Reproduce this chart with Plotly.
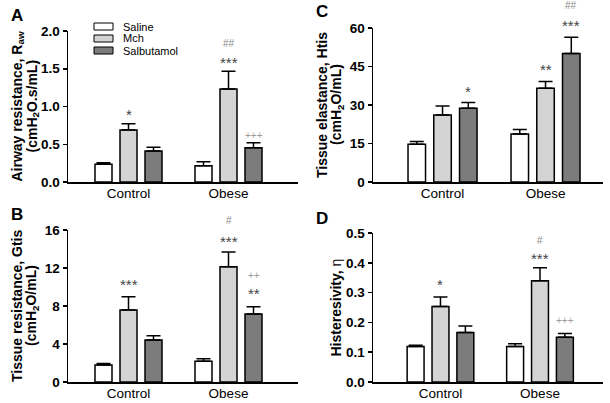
import plotly.graph_objects as go

W, H = 610, 403

groups = ["Control", "Obese"]
series = ["Saline", "Mch", "Salbutamol"]
colors = ["#ffffff", "#d4d4d4", "#7c7c7c"]

# Panel A: airway resistance Raw
raw_saline = [0.234, 0.216]
raw_saline_err = [0.022, 0.053]
raw_mch = [0.689, 1.232]
raw_mch_err = [0.084, 0.234]
raw_salb = [0.410, 0.455]
raw_salb_err = [0.049, 0.066]

# Panel B: tissue resistance Gtis
gtis_saline = [1.79, 2.18]
gtis_saline_err = [0.17, 0.28]
gtis_mch = [7.58, 12.14]
gtis_mch_err = [1.40, 1.54]
gtis_salb = [4.42, 7.16]
gtis_salb_err = [0.46, 0.77]

# Panel C: tissue elastance Htis
htis_saline = [14.7, 18.7]
htis_saline_err = [1.1, 1.8]
htis_mch = [26.1, 36.5]
htis_mch_err = [3.5, 2.7]
htis_salb = [28.7, 50.1]
htis_salb_err = [2.3, 6.3]

# Panel D: histeresivity eta
eta_saline = [0.119, 0.119]
eta_saline_err = [0.004, 0.009]
eta_mch = [0.253, 0.340]
eta_mch_err = [0.032, 0.043]
eta_salb = [0.166, 0.150]
eta_salb_err = [0.022, 0.013]

# significance labels: (text, group index, series index, y value)
raw_marks = [("*", 0, 1, 0.93), ("***", 1, 1, 1.62), ("##", 1, 1, 1.83), ("+++", 1, 2, 0.62)]
gtis_marks = [("***", 0, 1, 10.56), ("***", 1, 1, 15.12), ("#", 1, 1, 16.98),
              ("++", 1, 2, 11.26), ("**", 1, 2, 9.61)]
htis_marks = [("*", 0, 2, 36.5), ("**", 1, 1, 44.9), ("***", 1, 2, 62.0), ("##", 1, 2, 68.6)]
eta_marks = [("*", 0, 1, 0.337), ("***", 1, 1, 0.426), ("#", 1, 1, 0.476), ("+++", 1, 2, 0.206)]

raw_ticks = [0, 0.5, 1.0, 1.5, 2.0]
gtis_ticks = [0, 4, 8, 12, 16]
htis_ticks = [0, 15, 30, 45, 60]
eta_ticks = [0, 0.1, 0.2, 0.3, 0.4, 0.5]

FONT = "Liberation Sans, Arial, sans-serif"


def px_x(p):
    return p / W


def px_y(p):
    return 1 - p / H


panels = [
    dict(letter="A", means=[raw_saline, raw_mch, raw_salb],
         errs=[raw_saline_err, raw_mch_err, raw_salb_err], marks=raw_marks,
         ticks=raw_ticks, fmt=".1f",
         xpx=(68, 298), ypx=(182, 31), xr=(-0.605, 1.695),
         titles=["<b>Airway resistance, R<sub>aw</sub></b>", "<b>(cmH<sub>2</sub>O.s/mL)</b>"],
         title_x=[17, 32], letter_pos=(17, 15)),
    dict(letter="B", means=[gtis_saline, gtis_mch, gtis_salb],
         errs=[gtis_saline_err, gtis_mch_err, gtis_salb_err], marks=gtis_marks,
         ticks=gtis_ticks, fmt="d",
         xpx=(68, 298), ypx=(382, 230), xr=(-0.605, 1.695),
         titles=["<b>Tissue resistance, Gtis</b>", "<b>(cmH<sub>2</sub>O/mL)</b>"],
         title_x=[17, 32], letter_pos=(17, 214)),
    dict(letter="C", means=[htis_saline, htis_mch, htis_salb],
         errs=[htis_saline_err, htis_mch_err, htis_salb_err], marks=htis_marks,
         ticks=htis_ticks, fmt="d",
         xpx=(373, 603), ypx=(182, 28), xr=(-0.675, 1.558),
         titles=["<b>Tissue elastance, Htis</b>", "<b>(cmH<sub>2</sub>O/mL)</b>"],
         title_x=[322, 337], letter_pos=(322, 11)),
    dict(letter="D", means=[eta_saline, eta_mch, eta_salb],
         errs=[eta_saline_err, eta_mch_err, eta_salb_err], marks=eta_marks,
         ticks=eta_ticks, fmt=".1f",
         xpx=(373, 603), ypx=(382, 233), xr=(-0.678, 1.633),
         titles=["<b>Histeresivity, </b>η"],
         title_x=[335], letter_pos=(322, 218)),
]

fig = go.Figure()
layout = dict(
    width=W, height=H,
    margin=dict(l=0, r=0, t=0, b=0),
    paper_bgcolor="white", plot_bgcolor="white",
    barmode="group", bargap=0.25, bargroupgap=0.32,
    showlegend=False,
    font=dict(family=FONT, color="black"),
)
annotations = []
shapes = []

mark_style = {
    "*": dict(size=15, color="#444444", shift=-3),
    "#": dict(size=10, color="#8a8a8a", shift=0),
    "+": dict(size=10, color="#9a9a9a", shift=0),
}

for k, p in enumerate(panels):
    sfx = "" if k == 0 else str(k + 1)
    xa, ya = "x" + sfx, "y" + sfx
    for i, name in enumerate(series):
        fig.add_trace(go.Bar(
            x=[0, 1], y=p["means"][i], name=name,
            marker=dict(color=colors[i], line=dict(color="black", width=1.5)),
            error_y=dict(type="data", symmetric=False, array=p["errs"][i],
                         arrayminus=[0, 0], color="black", thickness=1.5, width=7),
            xaxis=xa, yaxis=ya, showlegend=False, hoverinfo="skip",
        ))
    x0, x1 = p["xpx"]
    yb, yt = p["ypx"]
    ymax = p["ticks"][-1]
    layout["xaxis" + sfx] = dict(
        domain=[px_x(x0), px_x(x1)], range=list(p["xr"]), anchor=ya,
        tickvals=[0, 1], ticktext=groups, ticks="",
        showline=True, linecolor="black", linewidth=1.5, showgrid=False,
        zeroline=False, tickfont=dict(size=13.5, family=FONT), automargin=False,
        ticklabelstandoff=-2, fixedrange=True,
    )
    layout["yaxis" + sfx] = dict(
        domain=[px_y(yb), px_y(yt)], range=[0, ymax], anchor=xa,
        tickvals=p["ticks"], tickformat=p["fmt"], ticks="outside", ticklen=4,
        tickwidth=1.5, tickcolor="black",
        showline=True, linecolor="black", linewidth=1.5, showgrid=False,
        zeroline=False, tickfont=dict(size=13.5, family=FONT, weight="bold"),
        automargin=False, fixedrange=True,
    )
    ycen = px_y((yb + yt) / 2)
    for t, tx in zip(p["titles"], p["title_x"]):
        annotations.append(dict(
            text=t, x=px_x(tx), y=ycen, xref="paper", yref="paper",
            textangle=-90, showarrow=False, xanchor="center", yanchor="middle",
            font=dict(size=14, family=FONT),
        ))
    lx, ly = p["letter_pos"]
    annotations.append(dict(
        text="<b>%s</b>" % p["letter"], x=px_x(lx), y=px_y(ly), xref="paper", yref="paper",
        showarrow=False, xanchor="center", yanchor="middle",
        font=dict(size=17, family=FONT),
    ))
    for text, g, s, yv in p["marks"]:
        st = mark_style[text[0]]
        annotations.append(dict(
            text=text, x=g + (s - 1) * 0.25, y=yv / ymax, xref=xa, yref=ya + " domain",
            showarrow=False, xanchor="center", yanchor="middle", yshift=st["shift"],
            font=dict(size=st["size"], color=st["color"], family=FONT),
        ))

# legend (panel A)
leg_rows = [26.5, 38.5, 50.5]
for i, name in enumerate(series):
    cy = leg_rows[i]
    shapes.append(dict(type="rect", xref="paper", yref="paper",
                       x0=px_x(94), x1=px_x(113), y0=px_y(cy + 3.5), y1=px_y(cy - 3.5),
                       fillcolor=colors[i], line=dict(color="black", width=1)))
    annotations.append(dict(text=name, x=px_x(121), y=px_y(cy), xref="paper", yref="paper",
                            showarrow=False, xanchor="left", yanchor="middle",
                            font=dict(size=11, family=FONT)))

layout["annotations"] = annotations
layout["shapes"] = shapes
fig.update_layout(**layout)
# drop the browser's default 8 px page margin so the figure sits at the window's corner
fig.write_html("out.html",
               config={"displayModeBar": False, "staticPlot": True},
               post_script="document.body.style.margin='0';document.body.style.overflow='hidden';")
